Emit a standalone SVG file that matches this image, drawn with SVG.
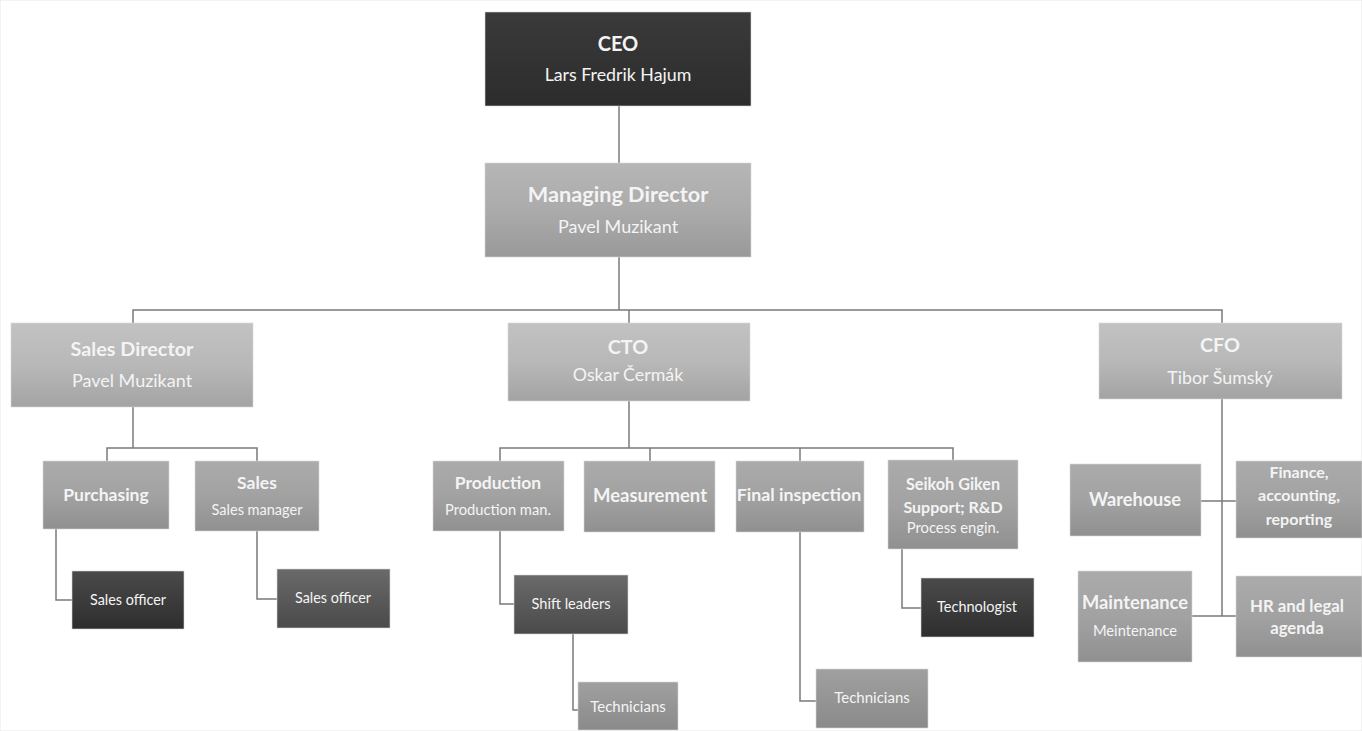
<svg xmlns="http://www.w3.org/2000/svg" width="1362" height="731" viewBox="0 0 1362 731">
<defs>
<linearGradient id="gDark" x1="0" y1="0" x2="0" y2="1"><stop offset="0" stop-color="#3a3a3a"/><stop offset="1" stop-color="#2c2c2c"/></linearGradient>
<linearGradient id="gL1" x1="0" y1="0" x2="0" y2="1"><stop offset="0" stop-color="#b6b6b6"/><stop offset="0.5" stop-color="#ababab"/><stop offset="1" stop-color="#999"/></linearGradient>
<linearGradient id="gL2" x1="0" y1="0" x2="0" y2="1"><stop offset="0" stop-color="#c2c2c2"/><stop offset="0.5" stop-color="#b8b8b8"/><stop offset="1" stop-color="#a3a3a3"/></linearGradient>
<linearGradient id="gL3" x1="0" y1="0" x2="0" y2="1"><stop offset="0" stop-color="#ababab"/><stop offset="0.5" stop-color="#a2a2a2"/><stop offset="1" stop-color="#909090"/></linearGradient>
<linearGradient id="gMid" x1="0" y1="0" x2="0" y2="1"><stop offset="0" stop-color="#6a6a6a"/><stop offset="1" stop-color="#4a4a4a"/></linearGradient>
<linearGradient id="gDk2" x1="0" y1="0" x2="0" y2="1"><stop offset="0" stop-color="#4a4a4a"/><stop offset="1" stop-color="#2e2e2e"/></linearGradient>
<linearGradient id="gTech" x1="0" y1="0" x2="0" y2="1"><stop offset="0" stop-color="#a0a0a0"/><stop offset="1" stop-color="#8a8a8a"/></linearGradient>
</defs>
<style>
text{font-family:Lato,"Liberation Sans",sans-serif;fill:#f4f4f4;text-anchor:middle}
.b{font-weight:bold}
.line{fill:none;stroke:#7a7a7a;stroke-width:1.5}
rect{stroke:#d8d8d8;stroke-width:0.6}
</style>
<rect width="1362" height="731" fill="#fff" stroke="none"/>
<g id="connectors">
<path class="line" d="M619,106V163"/>
<path class="line" d="M619,257V310"/>
<path class="line" d="M133,323V310H1222V323"/>
<path class="line" d="M629,310V323"/>
<path class="line" d="M133,407V448"/>
<path class="line" d="M107,461V448H257V461"/>
<path class="line" d="M56,529V600H72"/>
<path class="line" d="M257,531V599H277"/>
<path class="line" d="M629,401V448"/>
<path class="line" d="M500,461V448H953V460"/>
<path class="line" d="M650,448V461"/>
<path class="line" d="M800,448V461"/>
<path class="line" d="M500,531V604H514"/>
<path class="line" d="M573,634V710H578"/>
<path class="line" d="M800,532V701H816"/>
<path class="line" d="M902,549V608H921"/>
<path class="line" d="M1222,399V616"/>
<path class="line" d="M1201,501H1236"/>
<path class="line" d="M1192,616H1236"/>
</g>
<g id="ceo"><rect x="485" y="12" width="266" height="94" fill="url(#gDark)"/><text class="b" x="618" y="51" font-size="20">CEO</text><text x="618" y="81" font-size="17.8">Lars Fredrik Hajum</text></g>
<g id="md"><rect x="485" y="163" width="266" height="94" fill="url(#gL1)"/><text class="b" x="618" y="202" font-size="21.7">Managing Director</text><text x="618" y="233" font-size="18">Pavel Muzikant</text></g>
<g id="sales-director"><rect x="11" y="323" width="242" height="84" fill="url(#gL2)"/><text class="b" x="132" y="356" font-size="19.8">Sales Director</text><text x="132" y="387" font-size="18">Pavel Muzikant</text></g>
<g id="cto"><rect x="508" y="323" width="242" height="78" fill="url(#gL2)"/><text class="b" x="628" y="354" font-size="19.8">CTO</text><text x="628" y="381" font-size="17.8">Oskar Čermák</text></g>
<g id="cfo"><rect x="1099" y="323" width="243" height="76" fill="url(#gL2)"/><text class="b" x="1220" y="352" font-size="19.8">CFO</text><text x="1220" y="384" font-size="17.8">Tibor Šumský</text></g>
<g id="purchasing"><rect x="43" y="461" width="126" height="68" fill="url(#gL3)"/><text class="b" x="106" y="501" font-size="17.5">Purchasing</text></g>
<g id="sales"><rect x="195" y="461" width="124" height="70" fill="url(#gL3)"/><text class="b" x="257" y="489" font-size="17.5">Sales</text><text x="257" y="515" font-size="14.5">Sales manager</text></g>
<g id="sales-officer-1"><rect x="72" y="571" width="112" height="58" fill="url(#gDk2)"/><text x="128" y="605" font-size="14.4">Sales officer</text></g>
<g id="sales-officer-2"><rect x="277" y="569" width="113" height="59" fill="url(#gMid)"/><text x="333" y="603" font-size="14.4">Sales officer</text></g>
<g id="production"><rect x="433" y="461" width="131" height="70" fill="url(#gL3)"/><text class="b" x="498" y="489" font-size="17.5">Production</text><text x="498" y="515" font-size="14.7">Production man.</text></g>
<g id="measurement"><rect x="584" y="461" width="131" height="71" fill="url(#gL3)"/><text class="b" x="650" y="502" font-size="18.5">Measurement</text></g>
<g id="final-inspection"><rect x="736" y="461" width="128" height="71" fill="url(#gL3)"/><text class="b" x="799" y="501" font-size="17.8">Final inspection</text></g>
<g id="seikoh"><rect x="888" y="460" width="130" height="89" fill="url(#gL3)"/><text class="b" x="953" y="490" font-size="16.2">Seikoh Giken</text><text class="b" x="953" y="513" font-size="16">Support; R&amp;D</text><text x="953" y="533" font-size="14.8">Process engin.</text></g>
<g id="shift-leaders"><rect x="514" y="575" width="114" height="59" fill="url(#gMid)"/><text x="571" y="609" font-size="14.6">Shift leaders</text></g>
<g id="technicians-1"><rect x="578" y="682" width="100" height="48" fill="url(#gTech)"/><text x="628" y="712" font-size="15">Technicians</text></g>
<g id="technicians-2"><rect x="816" y="669" width="112" height="59" fill="url(#gTech)"/><text x="872" y="703" font-size="15">Technicians</text></g>
<g id="technologist"><rect x="921" y="578" width="113" height="59" fill="url(#gDk2)"/><text x="977" y="612" font-size="14.5">Technologist</text></g>
<g id="warehouse"><rect x="1070" y="464" width="131" height="72" fill="url(#gL3)"/><text class="b" x="1135" y="506" font-size="18.2">Warehouse</text></g>
<g id="finance"><rect x="1236" y="461" width="126" height="77" fill="url(#gL3)"/><text class="b" x="1299" y="478" font-size="16">Finance,</text><text class="b" x="1299" y="501" font-size="16">accounting,</text><text class="b" x="1299" y="525" font-size="16">reporting</text></g>
<g id="maintenance"><rect x="1078" y="571" width="114" height="91" fill="url(#gL3)"/><text class="b" x="1135" y="609" font-size="18.3">Maintenance</text><text x="1135" y="636" font-size="14.7">Meintenance</text></g>
<g id="hr"><rect x="1236" y="576" width="126" height="81" fill="url(#gL3)"/><text class="b" x="1297" y="612" font-size="16.8">HR and legal</text><text class="b" x="1297" y="634" font-size="16.8">agenda</text></g>
</svg>
